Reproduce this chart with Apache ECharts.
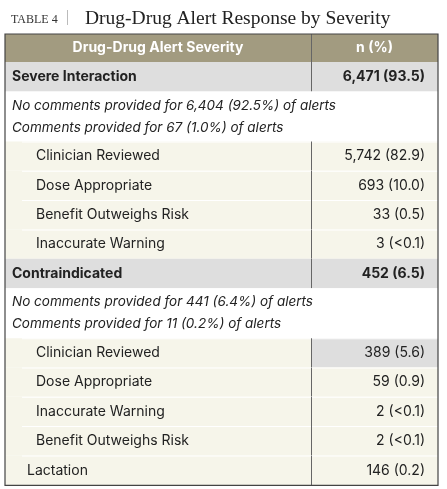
<!DOCTYPE html>
<html><head><meta charset="utf-8">
<script src="https://cdn.jsdelivr.net/npm/echarts@6/dist/echarts.min.js"></script>
<style>html,body{margin:0;background:#fff}#c{width:447px;height:489px}</style>
</head><body><div id="c"></div>
<script>
// table content
const labels = ['Drug-Drug Alert Severity', 'Severe Interaction',
  'No comments provided for 6,404 (92.5%) of alerts\nComments provided for 67 (1.0%) of alerts',
  'Clinician Reviewed', 'Dose Appropriate', 'Benefit Outweighs Risk', 'Inaccurate Warning',
  'Contraindicated',
  'No comments provided for 441 (6.4%) of alerts\nComments provided for 11 (0.2%) of alerts',
  'Clinician Reviewed', 'Dose Appropriate', 'Inaccurate Warning', 'Benefit Outweighs Risk', 'Lactation'];
const values = ['n (%)', '6,471 (93.5)', '', '5,742 (82.9)', '693 (10.0)', '33 (0.5)', '3 (<0.1)',
  '452 (6.5)', '', '389 (5.6)', '59 (0.9)', '2 (<0.1)', '2 (<0.1)', '146 (0.2)'];
const kinds = ['head', 'group', 'note', 'item', 'item', 'item', 'item',
  'group', 'note', 'itemHi', 'item', 'item', 'item', 'sub'];

const H = { head: 28, group: 29.5, note: 50, item: 29.3, itemHi: 29.3, sub: 30 };
let acc = 0;
const rows = kinds.map((k, i) => { const r = [i, acc, acc + H[k]]; acc += H[k]; return r; });
const total = acc;
const W = 433, DIV = 306;
const FONT = 'Inter, Roboto, sans-serif';

const chart = echarts.init(document.getElementById('c'));
chart.setOption({
  animation: false,
  title: [
    { text: 'TABLE 4', left: 6, top: 9, textStyle: { fontFamily: '"Liberation Serif", serif', fontSize: 12, fontWeight: 'normal', color: '#333' } },
    { text: 'Drug-Drug Alert Response by Severity', left: 80, top: 4, textStyle: { fontFamily: '"Liberation Serif", serif', fontSize: 19.5, fontWeight: 'normal', color: '#222' } }
  ],
  graphic: [{ type: 'rect', shape: { x: 67, y: 10, width: 1, height: 15 }, style: { fill: '#bbb' } }],
  grid: { left: 5, right: 9, top: 34, bottom: 489 - 34 - total },
  xAxis: { type: 'value', min: 0, max: W, show: false },
  yAxis: { type: 'value', min: 0, max: total, inverse: true, show: false },
  series: [{
    type: 'custom',
    data: rows,
    renderItem(params, api) {
      const i = api.value(0);
      const k = kinds[i];
      const p0 = api.coord([0, api.value(1)]);
      const p1 = api.coord([W, api.value(2)]);
      const xd = api.coord([DIV, 0])[0];
      const y0 = p0[1], y1 = p1[1], h = y1 - y0, cy = (y0 + y1) / 2;
      const x0 = p0[0], x1 = p1[0];
      const ch = [];
      const bg = k === 'head' ? '#a29b80' : k === 'group' ? '#dedede' : k === 'note' ? '#ffffff' : '#f6f5ea';
      ch.push({ type: 'rect', shape: { x: x0, y: y0, width: x1 - x0, height: h }, style: { fill: bg } });
      if (k === 'itemHi') ch.push({ type: 'rect', shape: { x: xd, y: y0, width: x1 - xd, height: h }, style: { fill: '#dedede' } });
      if (k === 'item' || k === 'itemHi' || k === 'sub') {
        ch.push({ type: 'rect', shape: { x: x0 + 17, y: y0, width: x1 - x0 - 17, height: 1 }, style: { fill: '#ffffff' } });
      }
      if (k !== 'note') ch.push({ type: 'rect', shape: { x: xd, y: y0, width: 1, height: h }, style: { fill: '#666' } });
      const base = { fontFamily: FONT, fontSize: 14, fill: '#222', textVerticalAlign: 'middle' };
      if (k === 'head') {
        ch.push({ type: 'text', style: Object.assign({}, base, { x: (x0 + xd) / 2, y: cy, text: labels[i], fill: '#fff', fontWeight: 'bold', textAlign: 'center' }) });
        ch.push({ type: 'text', style: Object.assign({}, base, { x: (xd + x1) / 2, y: cy, text: values[i], fill: '#fff', fontWeight: 'bold', textAlign: 'center' }) });
      } else if (k === 'note') {
        ch.push({ type: 'text', style: Object.assign({}, base, { x: x0 + 7, y: cy, text: labels[i], fontStyle: 'italic', fontSize: 13.5, lineHeight: 22 }) });
      } else {
        const ind = k === 'group' ? 7 : k === 'sub' ? 22 : 31;
        const fw = k === 'group' ? 'bold' : 'normal';
        ch.push({ type: 'text', style: Object.assign({}, base, { x: x0 + ind, y: cy, text: labels[i], fontWeight: fw }) });
        ch.push({ type: 'text', style: Object.assign({}, base, { x: x1 - 13, y: cy, text: values[i], fontWeight: fw, textAlign: 'right' }) });
      }
      return { type: 'group', children: ch };
    }
  }, {
    type: 'custom',
    data: [[0]],
    z: 5,
    renderItem(params, api) {
      const a = api.coord([0, 0]), b = api.coord([W, total]);
      return { type: 'rect', shape: { x: a[0], y: a[1], width: b[0] - a[0], height: b[1] - a[1] }, style: { fill: 'none', stroke: '#444', lineWidth: 1.2 } };
    }
  }]
});
</script></body></html>
